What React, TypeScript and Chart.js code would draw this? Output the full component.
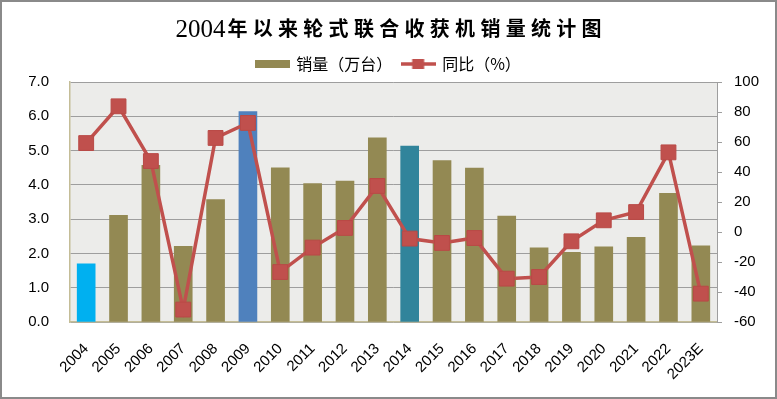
import React, { useEffect, useRef } from 'react';
import { Chart, registerables } from 'chart.js';

Chart.register(...registerables);

const years = ['2004', '2005', '2006', '2007', '2008', '2009', '2010', '2011', '2012', '2013', '2014', '2015', '2016', '2017', '2018', '2019', '2020', '2021', '2022', '2023E'];
const sales = [1.70, 3.11, 4.57, 2.21, 3.57, 6.14, 4.50, 4.04, 4.11, 5.37, 5.13, 4.71, 4.49, 3.09, 2.16, 2.03, 2.19, 2.47, 3.75, 2.22];
const yoy = [59.3, 83.8, 47.3, -51.7, 62.7, 72.7, -26.7, -10.4, 2.7, 30.7, -4.4, -7.3, -4.0, -31.1, -30.0, -6.2, 7.8, 13.3, 53.1, -41.1];
const salesLabel = '销量（万台）';
const yoyLabel = '同比（%）';
const titleYear = '2004';
const titleRest = '年以来轮式联合收获机销量统计图';
const leftRange = [0, 7];
const rightRange = [-60, 100];

const OLIVE = '#938953';
const RED = '#C0504D';
const highlight: Record<string, string> = { '2004': '#00B0F0', '2009': '#4F81BD', '2014': '#31849B' };

export default function App() {
  const ref = useRef<HTMLCanvasElement | null>(null);
  useEffect(() => {
    document.body.style.margin = '0';
    const canvas = ref.current!;

    const barIcon = document.createElement('canvas');
    barIcon.width = 35; barIcon.height = 8;
    const bctx = barIcon.getContext('2d')!;
    bctx.fillStyle = OLIVE; bctx.fillRect(0, 0, 35, 8);

    const lineIcon = document.createElement('canvas');
    lineIcon.width = 35; lineIcon.height = 12;
    const lctx = lineIcon.getContext('2d')!;
    lctx.strokeStyle = RED; lctx.lineWidth = 3.5;
    lctx.beginPath(); lctx.moveTo(0, 6); lctx.lineTo(35, 6); lctx.stroke();
    lctx.fillStyle = RED; lctx.fillRect(11.5, 1, 12, 10);

    const bgPlugin = {
      id: 'bg',
      beforeDraw(chart: any) {
        const { ctx, chartArea: a } = chart;
        ctx.save();
        ctx.fillStyle = '#ffffff';
        ctx.fillRect(0, 0, chart.width, chart.height);
        ctx.fillStyle = '#ECECEA';
        ctx.fillRect(a.left, a.top, a.right - a.left, a.bottom - a.top);
        ctx.restore();
      },
      afterDraw(chart: any) {
        const { ctx } = chart;
        ctx.save();
        ctx.strokeStyle = '#8A8A8A';
        ctx.lineWidth = 2;
        ctx.strokeRect(1, 1, chart.width - 2, chart.height - 2);
        // title
        ctx.fillStyle = '#000000';
        ctx.textBaseline = 'alphabetic';
        ctx.font = '25px "Liberation Serif"';
        const w1 = ctx.measureText(titleYear).width;
        ctx.font = 'bold 20px "Noto Sans CJK SC"';
        (ctx as any).letterSpacing = '5.3px';
        const w2 = ctx.measureText(titleRest).width;
        const total = w1 + 2 + w2 - 5.3;
        const x0 = chart.width / 2 - total / 2;
        (ctx as any).letterSpacing = '0px';
        ctx.font = '25px "Liberation Serif"';
        ctx.textAlign = 'left';
        ctx.fillText(titleYear, x0, 37);
        ctx.font = 'bold 20px "Noto Sans CJK SC"';
        (ctx as any).letterSpacing = '5.3px';
        ctx.fillText(titleRest, x0 + w1 + 2, 35.5);
        (ctx as any).letterSpacing = '0px';
        ctx.restore();
      },
    };

    const chart = new Chart(canvas, {
      type: 'bar',
      data: {
        labels: years,
        datasets: [
          {
            type: 'bar',
            label: salesLabel,
            data: sales,
            backgroundColor: years.map((y) => highlight[y] || OLIVE),
            barThickness: 18,
            yAxisID: 'y',
            order: 1,
          },
          {
            type: 'line',
            label: yoyLabel,
            data: yoy,
            yAxisID: 'y1',
            borderColor: RED,
            borderWidth: 3.5,
            pointStyle: 'rect',
            pointRadius: 10.5,
            pointBackgroundColor: RED,
            pointBorderColor: '#B94946',
            pointBorderWidth: 1,
            order: 0,
          } as any,
        ],
      },
      options: {
        responsive: false,
        animation: false,
        devicePixelRatio: 1,
        layout: { padding: { top: 46, left: 0, right: 0, bottom: 0 } },
        plugins: {
          tooltip: { enabled: false },
          title: { display: false },
          legend: {
            display: true,
            position: 'top',
            labels: {
              usePointStyle: true,
              pointStyleWidth: 32,
              padding: 10,
              color: '#595959',
              font: { family: '"Noto Sans CJK SC"', size: 16 },
              generateLabels: () => [
                { text: salesLabel, pointStyle: barIcon as any, fillStyle: OLIVE, strokeStyle: OLIVE, lineWidth: 0, datasetIndex: 0, hidden: false },
                { text: yoyLabel, pointStyle: lineIcon as any, fillStyle: RED, strokeStyle: RED, lineWidth: 0, datasetIndex: 1, hidden: false },
              ] as any,
            },
          },
        },
        scales: {
          x: {
            offset: true,
            grid: { display: false, drawTicks: false },
            border: { display: true, color: '#C4BD97', width: 1.5 },
            ticks: {
              minRotation: 45,
              maxRotation: 45,
              padding: 18,
              color: '#000000',
              font: { family: '"Liberation Sans"', size: 15 },
              autoSkip: false,
            },
            afterFit: (s: any) => { s.height = 77; },
          },
          y: {
            position: 'left',
            min: leftRange[0],
            max: leftRange[1],
            grid: { color: '#9E9E9E', lineWidth: 1, drawTicks: false },
            border: { display: true, color: '#C4BD97', width: 1.5 },
            ticks: {
              stepSize: 1,
              padding: 21,
              color: '#000000',
              font: { family: '"Liberation Sans"', size: 15 },
              callback: (v: any) => Number(v).toFixed(1),
            },
            afterFit: (s: any) => { s.width = 70; },
          },
          y1: {
            position: 'right',
            min: rightRange[0],
            max: rightRange[1],
            grid: { drawOnChartArea: false, drawTicks: true, tickLength: 5, color: '#9E9E9E' },
            border: { display: true, color: '#9E9E9E', width: 1 },
            ticks: {
              stepSize: 20,
              padding: 12,
              color: '#000000',
              font: { family: '"Liberation Sans"', size: 15 },
            },
            afterFit: (s: any) => { s.width = 60; },
          },
        },
      },
      plugins: [bgPlugin],
    });
    return () => chart.destroy();
  }, []);
  return (
    <div style={{ width: 777, height: 399 }}>
      <canvas ref={ref} width={777} height={399} />
    </div>
  );
}
